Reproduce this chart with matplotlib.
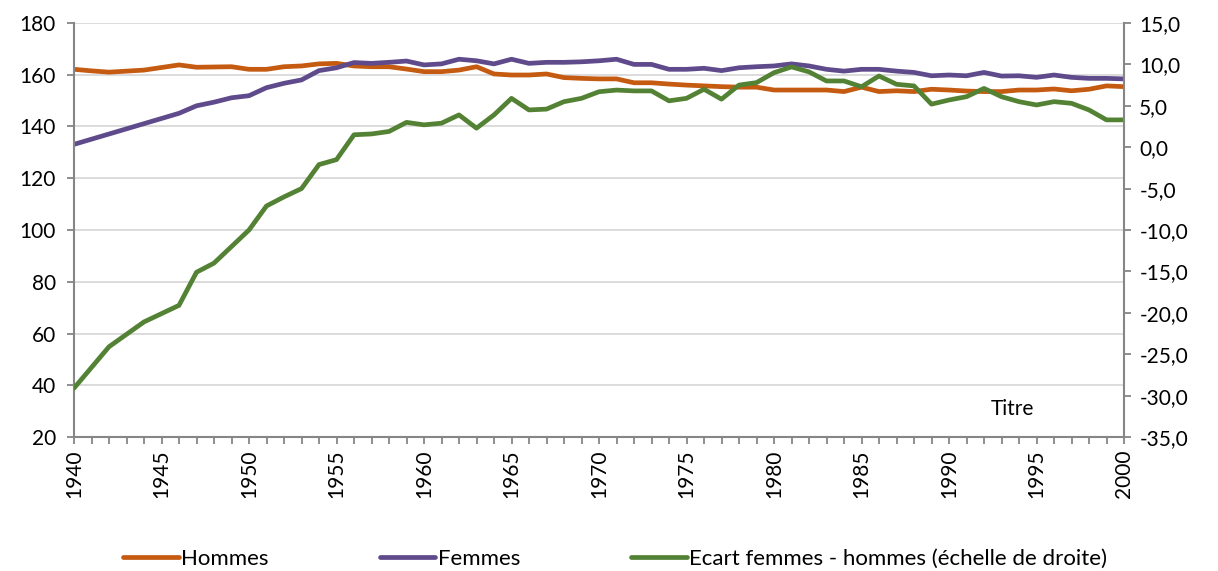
import matplotlib
matplotlib.use("Agg")
import matplotlib.pyplot as plt
from matplotlib.ticker import FixedLocator, MultipleLocator, FuncFormatter

plt.rcParams['font.family'] = ['Lato', 'DejaVu Sans']

years = list(range(1940, 2001))

hommes = [162.1, 161.5, 161.0, 161.4, 161.8, 162.8, 163.8, 162.9, 163.0, 163.1,
          162.1, 162.1, 163.1, 163.4, 164.2, 164.4, 163.4, 163.1, 163.1, 162.2,
          161.2, 161.2, 161.8, 163.1, 160.3, 159.9, 159.9, 160.3, 158.9, 158.6,
          158.4, 158.4, 156.9, 156.9, 156.4, 156.0, 155.7, 155.4, 155.2, 155.2,
          154.1, 154.1, 154.1, 154.1, 153.5, 155.2, 153.5, 153.8, 153.5, 154.4,
          154.1, 153.7, 153.5, 153.5, 154.1, 154.1, 154.5, 153.8, 154.4, 155.7,
          155.4]

femmes = [133.1, 135.1, 137.1, 139.1, 141.1, 143.1, 145.1, 148.0, 149.4, 151.1,
          151.9, 155.0, 156.7, 158.0, 161.6, 162.7, 164.7, 164.4, 164.8, 165.3,
          163.8, 164.2, 166.0, 165.4, 164.2, 166.0, 164.4, 164.8, 164.8, 165.0,
          165.4, 166.0, 164.0, 164.0, 162.1, 162.1, 162.5, 161.6, 162.7, 163.1,
          163.4, 164.2, 163.4, 162.1, 161.4, 162.1, 162.1, 161.4, 160.9, 159.6,
          159.9, 159.6, 160.9, 159.5, 159.6, 159.0, 159.9, 159.0, 158.6, 158.6,
          158.4]

ecart = [-29.1, -26.6, -24.1, -22.6, -21.1, -20.1, -19.1, -15.1, -14.0, -12.0,
         -10.0, -7.1, -6.0, -5.0, -2.1, -1.5, 1.5, 1.6, 1.9, 3.0,
         2.7, 2.9, 3.9, 2.3, 3.9, 5.9, 4.5, 4.6, 5.5, 5.9,
         6.7, 6.9, 6.8, 6.8, 5.6, 5.9, 7.0, 5.8, 7.5, 7.8,
         9.0, 9.7, 9.1, 8.0, 8.0, 7.3, 8.6, 7.6, 7.4, 5.2,
         5.7, 6.1, 7.1, 6.1, 5.5, 5.1, 5.5, 5.3, 4.5, 3.3,
         3.3]

x_labels = [str(y) for y in range(1940, 2001, 5)]
left_ticks = list(range(20, 181, 20))
right_ticks = [-35, -30, -25, -20, -15, -10, -5, 0, 5, 10, 15]

c_h = '#C55A11'
c_f = '#5F4B8B'
c_e = '#548235'
axis_col = '#868686'
grid_col = '#D9D9D9'
fs = 15
lw = 3.4

fig = plt.figure(figsize=(12.18, 5.71), dpi=100)
ax = fig.add_axes([74/1218, 1-437/571, 1050/1218, 414/571])
ax2 = ax.twinx()

l1, = ax.plot(years, hommes, color=c_h, lw=lw, label='Hommes', solid_capstyle='round')
l2, = ax.plot(years, femmes, color=c_f, lw=lw, label='Femmes', solid_capstyle='round')
l3, = ax2.plot(years, ecart, color=c_e, lw=lw, label='Ecart femmes - hommes (échelle de droite)',
               solid_capstyle='round')

ax.set_xlim(1940, 2000)
ax.set_ylim(20, 180)
ax2.set_ylim(-35, 15)

ax.yaxis.set_major_locator(FixedLocator(left_ticks))
ax2.yaxis.set_major_locator(FixedLocator(right_ticks))
ax2.yaxis.set_major_formatter(FuncFormatter(lambda v, p: f"{v:.1f}".replace('.', ',')))

ax.xaxis.set_major_locator(FixedLocator([int(s) for s in x_labels]))
ax.set_xticklabels(x_labels, rotation=90)
ax.xaxis.set_minor_locator(MultipleLocator(1))

ax.grid(axis='y', color=grid_col, lw=1.3)
ax.set_axisbelow(True)

for a in (ax, ax2):
    for s in a.spines.values():
        s.set_visible(False)
ax.spines['left'].set_visible(True)
ax.spines['bottom'].set_visible(True)
ax2.spines['right'].set_visible(True)
for s in (ax.spines['left'], ax.spines['bottom'], ax2.spines['right']):
    s.set_color(axis_col)
    s.set_linewidth(1.5)

ax.tick_params(axis='y', which='major', length=5, width=1.3, color=axis_col,
               labelsize=fs, labelcolor='#000000', pad=8)
ax.tick_params(axis='x', which='both', length=5, width=1.3, color=axis_col,
               labelsize=fs, labelcolor='#000000', pad=4, direction='out')
ax2.tick_params(axis='y', length=5, width=1.3, color=axis_col, labelsize=fs,
                labelcolor='#000000', pad=6)

ax.text(0.894, 0.068, 'Titre', transform=ax.transAxes, fontsize=fs,
        ha='center', va='center')

fig.legend(handles=[l1, l2, l3], loc='center', bbox_to_anchor=(0.505, 1-559/571),
           ncol=3, frameon=False, fontsize=16, handlelength=2.5, handletextpad=0.1,
           columnspacing=5.0)

fig.savefig('out.png', dpi=100)
